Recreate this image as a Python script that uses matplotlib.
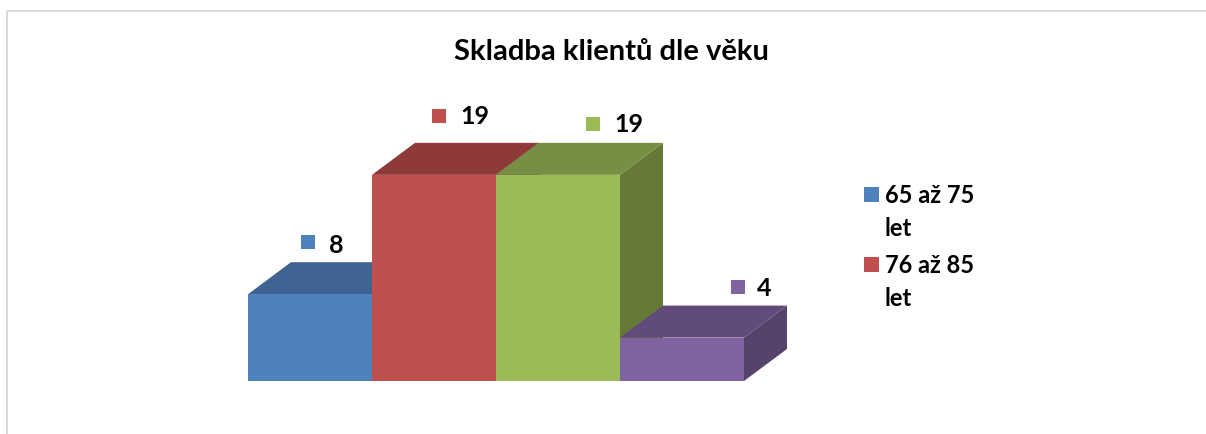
import matplotlib
matplotlib.use("Agg")
from matplotlib import pyplot as plt
from matplotlib.lines import Line2D
from matplotlib.patches import Polygon, Rectangle

plt.rcParams['font.family'] = ['Lato', 'DejaVu Sans']

W = 1206
H = 434

values = [8, 19, 19, 4]
front_colors = ['#4F81BD', '#C0504D', '#9BBB59', '#8064A2']
top_colors = ['#3F6491', '#8E3A38', '#778F45', '#614B7A']
side_colors = ['#3A5A82', '#7F3331', '#667A38', '#56426A']
legend_labels = ['65 až 75\nlet', '76 až 85\nlet']
title = 'Skladba klientů dle věku'

# bar scale: 124 px per bar, 10.85 px per client
px_x = 124
px_y = 10.85
x0 = 248
y0 = 381
depth_x = 43 / px_x
depth_y = 32 / px_y

fig = plt.figure(figsize=(W / 100, H / 100), dpi=100, facecolor='white')
ax = fig.add_axes([0, 0, 1, 1])
ax.set_xlim(-x0 / px_x, (W - x0) / px_x)
ax.set_ylim(-(H - y0) / px_y, y0 / px_y)
ax.axis('off')

for i, v in enumerate(values):
    ax.add_patch(Polygon([(i, v), (i + 1, v), (i + 1 + depth_x, v + depth_y), (i + depth_x, v + depth_y)],
                         facecolor=top_colors[i], edgecolor='none'))
    ax.add_patch(Polygon([(i + 1, 0), (i + 1 + depth_x, depth_y), (i + 1 + depth_x, v + depth_y), (i + 1, v)],
                         facecolor=side_colors[i], edgecolor='none'))
    ax.add_patch(Rectangle((i, 0), 1, v, facecolor=front_colors[i], edgecolor='none'))


def to_fig(px, py):
    return px / W, 1 - py / H


def square(px, py, color, size=14):
    fig.add_artist(Rectangle((to_fig(px, py)), size / W, size / H, facecolor=color,
                             edgecolor='none', transform=fig.transFigure))


# data labels
marker_pos = [(301, 249), (432, 123), (586, 131), (731, 294)]
text_pos = [(329, 245), (460, 117), (614, 125), (757, 288)]
for i, v in enumerate(values):
    square(marker_pos[i][0], marker_pos[i][1], front_colors[i])
    tx, ty = to_fig(*text_pos[i])
    fig.text(tx, ty, str(v), fontsize=18, fontweight='bold', color='black', ha='left', va='center')

# legend
square(864, 202, front_colors[0], 15)
square(864, 272, front_colors[1], 15)
for label, py in zip(legend_labels, [212, 282]):
    tx, ty = to_fig(885, py)
    fig.text(tx, ty, label, fontsize=17, fontweight='bold', color='black', ha='left', va='center',
             linespacing=1.5)

tx, ty = to_fig(611, 52)
fig.text(tx, ty, title, fontsize=21, fontweight='bold', color='black', ha='center', va='center')

# outer frame
fig.add_artist(Line2D([7 / W, 7 / W, 1], [0, 1 - 11 / H, 1 - 11 / H], color='#D9D9D9', linewidth=1.4,
                      transform=fig.transFigure))

fig.savefig('out.png', dpi=100)
